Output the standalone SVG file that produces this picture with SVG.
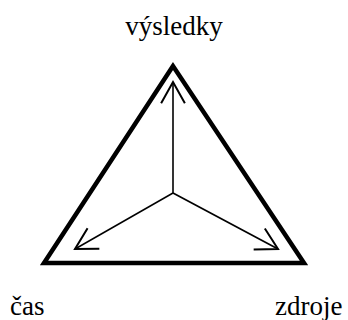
<svg xmlns="http://www.w3.org/2000/svg" width="348" height="320" viewBox="0 0 348 320">
  <defs>
    <!-- open V arrowhead shared by the three connectors -->
    <marker id="open-head" markerUnits="userSpaceOnUse" markerWidth="30" markerHeight="30" viewBox="-20 -12 24 24" refX="0" refY="0" orient="auto">
      <path d="M-17,-9.5 L0,0 L-17,9.5" fill="none" stroke="#000" stroke-width="1.6"/>
    </marker>
  </defs>

  <rect width="348" height="320" fill="#fff"/>

  <g id="triangle">
    <polygon points="173,66 44,263 304,263" fill="none" stroke="#000" stroke-width="4.5" stroke-linejoin="miter" stroke-miterlimit="10"/>
  </g>

  <g id="connectors" fill="none" stroke="#000" stroke-width="1.6" marker-end="url(#open-head)">
    <line x1="173" y1="193" x2="173" y2="82"/>
    <line x1="173" y1="193" x2="75" y2="249"/>
    <line x1="173" y1="193" x2="278" y2="249"/>
  </g>

  <!-- corner labels -->
  <g id="vysledky">
    <text x="174" y="35" text-anchor="middle" font-family="Times New Roman, Liberation Serif, DejaVu Serif, serif" font-size="27">výsledky</text>
  </g>
  <g id="cas">
    <text x="10" y="315" font-family="Times New Roman, Liberation Serif, DejaVu Serif, serif" font-size="27">čas</text>
  </g>
  <g id="zdroje">
    <text x="275" y="315" font-family="Times New Roman, Liberation Serif, DejaVu Serif, serif" font-size="27">zdroje</text>
  </g>
</svg>
